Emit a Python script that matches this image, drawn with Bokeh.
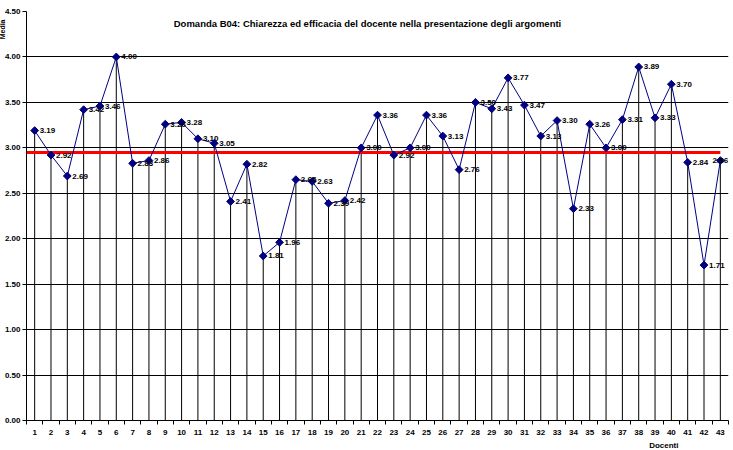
from bokeh.plotting import figure
from bokeh.models import FixedTicker, Label, PrintfTickFormatter, Title
from bokeh.core.properties import value
from bokeh.embed import file_html
from bokeh.resources import INLINE

docenti = list(range(1, 44))
medie = [3.19, 2.92, 2.69, 3.42, 3.46, 4.00, 2.83, 2.86, 3.26, 3.28,
         3.10, 3.05, 2.41, 2.82, 1.81, 1.96, 2.65, 2.63, 2.39, 2.42,
         3.00, 3.36, 2.92, 3.00, 3.36, 3.13, 2.76, 3.50, 3.43, 3.77,
         3.47, 3.13, 3.30, 2.33, 3.26, 3.00, 3.31, 3.89, 3.33, 3.70,
         2.84, 1.71, 2.86]
etichette = [f"{v:.2f}" for v in medie]
media_generale = 2.95
media_x = [0.5, 43]
y_ticks = [0, 0.5, 1.0, 1.5, 2.0, 2.5, 3.0, 3.5, 4.0, 4.5]
titolo = "Domanda B04: Chiarezza ed efficacia del docente nella presentazione degli argomenti"

FONT = "Liberation Sans"

p = figure(width=733, height=450, x_range=(0.5, 43.5), y_range=(0, 4.5),
           output_backend="svg", toolbar_location=None, title=None,
           min_border_left=0, min_border_right=5, min_border_top=11, min_border_bottom=0)
p.outline_line_color = None
p.background_fill_color = "white"
p.border_fill_color = "white"

# axes
p.xaxis.ticker = FixedTicker(ticks=docenti, minor_ticks=[k + 0.5 for k in range(0, 44)])
p.xaxis.major_tick_out = 0
p.xaxis.major_tick_in = 0
p.xaxis.minor_tick_out = 4
p.xaxis.minor_tick_in = 0
p.xaxis.minor_tick_line_color = "black"
p.xaxis.axis_line_color = "black"
p.xaxis.major_label_standoff = 5
p.xaxis.major_label_text_font = FONT
p.xaxis.major_label_text_font_size = "8px"
p.xaxis.major_label_text_font_style = "bold"
p.xaxis.major_label_text_color = "black"

p.yaxis.ticker = FixedTicker(ticks=y_ticks)
p.yaxis.formatter = PrintfTickFormatter(format="%.2f")
p.yaxis.major_tick_out = 4
p.yaxis.major_tick_in = 0
p.yaxis.minor_tick_out = 0
p.yaxis.minor_tick_in = 0
p.yaxis.major_tick_line_color = "black"
p.yaxis.axis_line_color = "black"
p.yaxis.major_label_standoff = 2
p.yaxis.major_label_text_font = FONT
p.yaxis.major_label_text_font_size = "8px"
p.yaxis.major_label_text_font_style = "bold"
p.yaxis.major_label_text_color = "black"

p.xgrid.grid_line_color = None
p.ygrid.ticker = FixedTicker(ticks=y_ticks)
p.ygrid.grid_line_color = "black"
p.ygrid.grid_line_alpha = 1.0
p.ygrid.grid_line_width = 1

# drop lines
p.segment(x0=docenti, y0=[0] * len(docenti), x1=docenti, y1=medie, line_color="black", line_width=1)
# average line
p.line(x=media_x, y=[media_generale] * len(media_x), line_color="#ff0000", line_width=3)
# series
p.line(x=docenti, y=medie, line_color="#000080", line_width=1)
p.scatter(x=docenti, y=medie, marker="square", angle=0.785398, size=5.5,
          fill_color="#000080", line_color="#000080")
p.text(x=docenti[:-1], y=medie[:-1], text=etichette[:-1], x_offset=5, y_offset=0,
       text_baseline="middle", text_align="left", text_font=value(FONT),
       text_font_size="8px", text_font_style="bold", text_color="black")
p.text(x=docenti[-1:], y=medie[-1:], text=etichette[-1:], x_offset=0, y_offset=0,
       text_baseline="middle", text_align="center", text_font=value(FONT),
       text_font_size="8px", text_font_style="bold", text_color="black")

p.add_layout(Label(x=341, y=397, x_units="screen", y_units="screen", text=titolo,
                   text_align="center", text_baseline="middle", text_font=FONT,
                   text_font_size="9.5px", text_font_style="bold", text_color="black"))

p.add_layout(Title(text="Media", align="right", offset=8, standoff=-8,
                   text_font=FONT, text_font_size="7px", text_font_style="bold",
                   text_color="black"), "left")
p.add_layout(Title(text="Docenti", align="right", offset=50, standoff=2,
                   text_font=FONT, text_font_size="8px", text_font_style="bold",
                   text_color="black"), "below")

open("out.html", "w").write(file_html(p, INLINE))
